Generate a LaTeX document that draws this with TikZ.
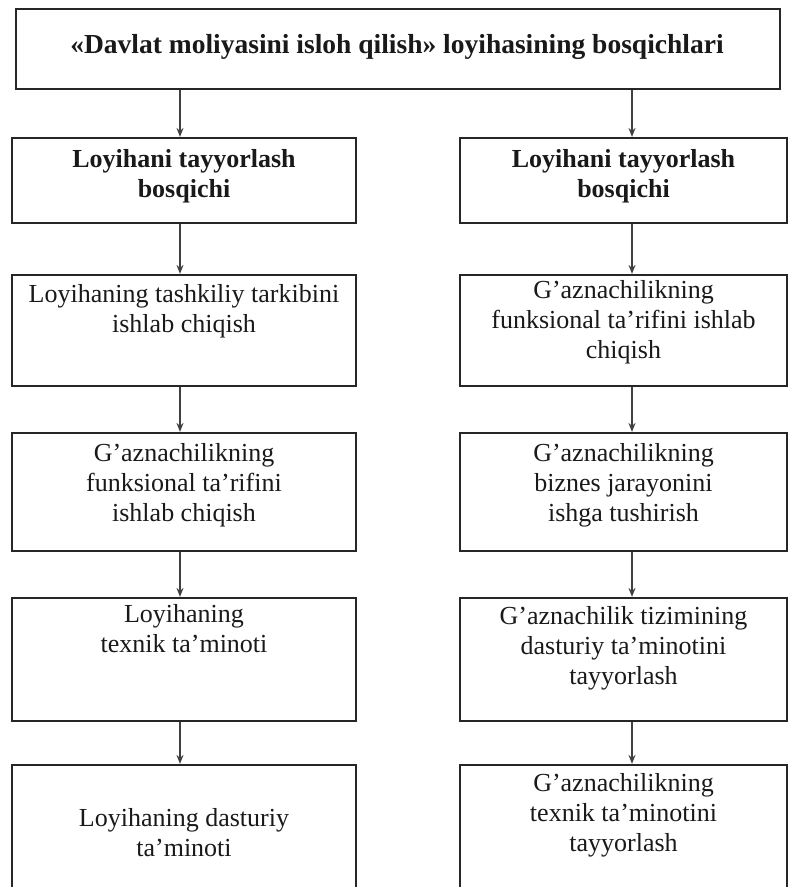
\documentclass[tikz,border=0pt]{standalone}
\usepackage{fontspec}
\setmainfont{Liberation Serif}
\usepackage{tikz}
\usetikzlibrary{arrows.meta,positioning}

\begin{document}
\begin{tikzpicture}[
  x=1pt, y=1pt,
  font=\fontsize{26}{30}\selectfont,
  box/.style={rectangle, draw=black!85, line width=2.2pt, inner sep=0pt},
  colL/.style={box, minimum width=344pt},
  colR/.style={box, minimum width=327pt},
  txt/.style={align=center, inner sep=0pt, text=black!90},
  bold/.style={txt, font=\fontsize{26}{30}\selectfont\bfseries},
  flow/.style={-{Stealth[length=9pt,width=7pt]}, draw=black!75, line width=1.4pt}
]
\clip (0,0) rectangle (789,-887);

% ---------- Title ----------
\node[box, minimum width=764pt, minimum height=80pt] (top) at (398,-49) {};
\node[bold, font=\fontsize{27.5}{30}\selectfont\bfseries] (topt) at (397,-47)
  {«Davlat moliyasini isloh qilish» loyihasining bosqichlari};

% ---------- Left column ----------
\node[colL, minimum height=85pt] (l1) at (184,-180.5) {};
\node[colL, minimum height=111pt] (l2) at (184,-330.5) {};
\node[colL, minimum height=118pt] (l3) at (184,-492) {};
\node[colL, minimum height=123pt] (l4) at (184,-659.5) {};
\node[colL, minimum height=160pt] (l5) at (184,-845) {};

\node[bold, below=12pt of l1.north] (l1t) {Loyihani tayyorlash\\bosqichi};
\node[txt, below=10pt of l2.north] (l2t) {Loyihaning tashkiliy tarkibini\\ishlab chiqish};
\node[txt, below=11pt of l3.north] (l3t) {G’aznachilikning\\funksional ta’rifini\\ishlab chiqish};
\node[txt, below=7pt of l4.north] (l4t) {Loyihaning\\texnik ta’minoti};
\node[txt, below=44pt of l5.north] (l5t) {Loyihaning dasturiy\\ta’minoti};

% ---------- Right column ----------
\node[colR, minimum height=85pt] (r1) at (623.5,-180.5) {};
\node[colR, minimum height=111pt] (r2) at (623.5,-330.5) {};
\node[colR, minimum height=118pt] (r3) at (623.5,-492) {};
\node[colR, minimum height=123pt] (r4) at (623.5,-659.5) {};
\node[colR, minimum height=160pt] (r5) at (623.5,-845) {};

\node[bold, below=12pt of r1.north] (r1t) {Loyihani tayyorlash\\bosqichi};
\node[txt, below=6pt of r2.north] (r2t) {G’aznachilikning\\funksional ta’rifini ishlab\\chiqish};
\node[txt, below=11pt of r3.north] (r3t) {G’aznachilikning\\biznes jarayonini\\ishga tushirish};
\node[txt, below=9pt of r4.north] (r4t) {G’aznachilik tizimining\\dasturiy ta’minotini\\tayyorlash};
\node[txt, below=9pt of r5.north] (r5t) {G’aznachilikning\\texnik ta’minotini\\tayyorlash};

% ---------- Arrows ----------
\draw[flow] ([xshift=-4pt]top.south -| l1.north) -- ([xshift=-4pt]l1.north);
\draw[flow] ([xshift=8.5pt]top.south -| r1.north) -- ([xshift=8.5pt]r1.north);
\foreach \a/\b in {l1/l2, l2/l3, l3/l4, l4/l5}
  \draw[flow] ([xshift=-4pt]\a.south) -- ([xshift=-4pt]\b.north);
\foreach \a/\b in {r1/r2, r2/r3, r3/r4, r4/r5}
  \draw[flow] ([xshift=8.5pt]\a.south) -- ([xshift=8.5pt]\b.north);

\end{tikzpicture}
\end{document}
